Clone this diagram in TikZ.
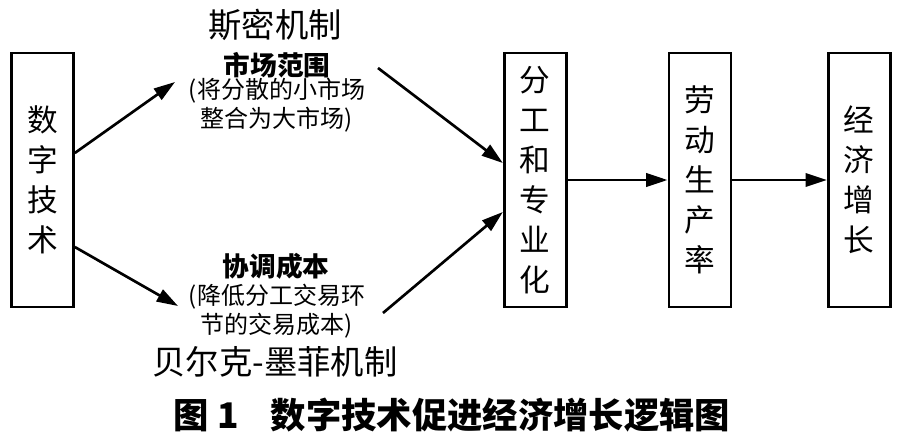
\documentclass[tikz,border=0pt]{standalone}
\usepackage{fontspec}
\setmainfont{Noto Sans CJK SC}
\usetikzlibrary{arrows.meta, positioning, calc}

\begin{document}
\begin{tikzpicture}[
    x=0.75pt, y=-0.75pt,
    stage/.style={rectangle, draw, line width=2pt, minimum width=46.5pt,
                  minimum height=190.5pt, inner sep=0pt, align=center,
                  font=\fontsize{23pt}{30pt}\selectfont},
    arr/.style={-{Triangle[length=16pt, width=10pt]}, line width=2pt},
    mech/.style={font=\fontsize{25pt}{30pt}\selectfont},
    keyword/.style={font=\fontsize{20pt}{24pt}\selectfont\bfseries},
    note/.style={align=center, font=\fontsize{18pt}{21.75pt}\selectfont},
  ]
    \useasboundingbox (0,0) rectangle (904,439);

    \node[stage] (tech) at (42.5,180) {数\\字\\技\\术};
    \node[stage, right=321pt of tech] (divn) {分\\工\\和\\专\\业\\化};
    \node[stage, right=75pt of divn] (prod) {劳\\动\\生\\产\\率};
    \node[stage, right=71pt of prod] (growth) {经\\济\\增\\长};

    \node[mech] (smith) at (275,25) {斯密机制};
    \node[keyword] (scope) at (277,65) {市场范围};
    \node[note] (scopenote) at (277,105) {(将分散的小市场\\整合为大市场)};

    \node[keyword] (cost) at (276,266) {协调成本};
    \node[note] (costnote) at (277,311) {(降低分工交易环\\节的交易成本)};
    \node[mech] (becker) at (275,362) {贝尔克-墨菲机制};

    \coordinate (upin) at (175,82);
    \coordinate (upout) at (378,68);
    \coordinate (lowin) at (178,306);
    \coordinate (lowout) at (383,313);

    \draw[arr] ($(tech.east)+(0,-27)$) -- (upin);
    \draw[arr] (upout) -- ($(divn.west)+(0,-17)$);
    \draw[arr] ($(tech.east)+(0,67)$) -- (lowin);
    \draw[arr] (lowout) -- ($(divn.west)+(0,32)$);
    \draw[arr] (divn) -- (prod);
    \draw[arr] (prod) -- (growth);

    \node[font=\fontsize{26.5pt}{30pt}\selectfont\bfseries] (caption) at (452,415)
      {图 1\hspace{0.9em}数字技术促进经济增长逻辑图};
\end{tikzpicture}
\end{document}
